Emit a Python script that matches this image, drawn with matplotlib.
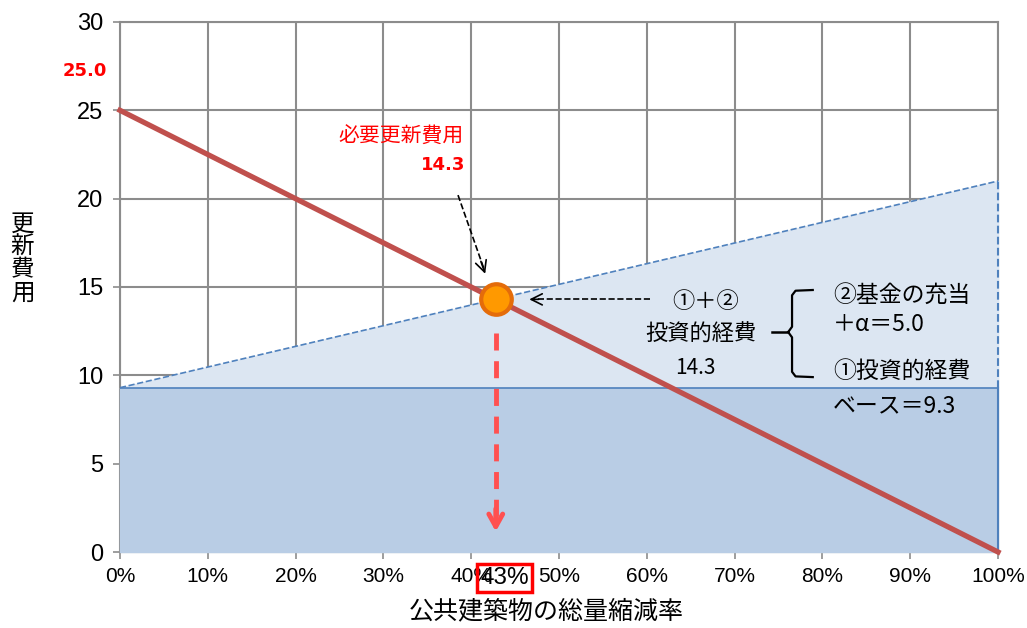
import matplotlib.pyplot as plt
import numpy as np

plt.rcParams['font.family'] = ['Noto Sans CJK JP', 'DejaVu Sans']

# 縮減率 0%〜100% と各費用
rate = [0.0, 1.0]
renewal_cost = [25.0, 0.0]          # 必要更新費用
invest_base = [9.3, 9.3]            # ①投資的経費ベース
invest_total = [9.3, 21.0]          # ①＋② 投資的経費
cross_cost = 14.3
cross_rate_label = '43%'

x_ticks = np.round(np.arange(0, 1.01, 0.1), 2)
x_tick_labels = [f'{int(round(v * 100))}%' for v in x_ticks]
y_ticks = [0, 5, 10, 15, 20, 25, 30]

cross_x = 1 - cross_cost / renewal_cost[0]

fig = plt.figure(figsize=(10.27, 6.28), dpi=100)
ax = fig.add_axes([0.1168, 0.121, 0.855, 0.844])
ax.set_xlim(0, 1)
ax.set_ylim(0, 30)

num_font = ['Liberation Sans', 'DejaVu Sans']
grid_c = '#8c8c8c'
ax.set_xticks(x_ticks)
ax.set_xticklabels(x_tick_labels, family=num_font, fontsize=15)
ax.set_yticks(y_ticks)
ax.set_yticklabels([str(v) for v in y_ticks], family=num_font, fontsize=17)
ax.tick_params(axis='both', direction='out', length=5, color=grid_c, width=1.2)
ax.tick_params(axis='x', pad=6)
ax.tick_params(axis='y', pad=7)
ax.grid(True, color=grid_c, linewidth=1.5, zorder=0)
ax.set_axisbelow(True)
for s in ax.spines.values():
    s.set_color(grid_c)
    s.set_linewidth(1.5)
    s.set_zorder(0.5)

# 投資的経費の領域
ax.fill_between(rate, invest_base, invest_total, color='#dce6f2', zorder=1, clip_on=False)
ax.fill_between(rate, 0, invest_base, color='#b9cde5', zorder=1, clip_on=False)
ax.plot(rate, invest_total, color='#4f81bd', linestyle='--', linewidth=1.2, zorder=2)
ax.plot([1, 1], [invest_base[1], invest_total[1]], color='#4f81bd', linestyle='--', linewidth=1.5, zorder=2, clip_on=False)
ax.plot(rate, invest_base, color='#4f81bd', linewidth=1.2, zorder=2)
ax.plot([1, 1], [0, invest_base[1]], color='#4f81bd', linewidth=1.5, zorder=2, clip_on=False)

# 必要更新費用
ax.plot(rate, renewal_cost, color='#c0504d', linewidth=3.8, zorder=3, clip_on=False)
ax.plot(cross_x, cross_cost, 'o', markersize=22, markerfacecolor='#ff9900',
        markeredgecolor='#e46c0a', markeredgewidth=3, zorder=5)

# 縮減率への矢印
arrow_c = '#ff5050'
ax.plot([cross_x, cross_x], [12.4, 1.6], color=arrow_c, linewidth=3.5,
        dashes=(3.5, 2.2), zorder=4)
ax.annotate('', xy=(cross_x, 1.0), xytext=(cross_x, 2.6),
            arrowprops=dict(arrowstyle='->,head_length=0.9,head_width=0.5',
                            color=arrow_c, linewidth=3.5), zorder=4)

# 注記の矢印
ax.plot([0.385, 0.414], [20.2, 16.1], color='black', linestyle='--', linewidth=1.2, zorder=4)
ax.annotate('', xy=(0.417, 15.6), xytext=(0.410, 16.6),
            arrowprops=dict(arrowstyle='->,head_length=0.8,head_width=0.4',
                            color='black', linewidth=1.2), zorder=4)
ax.plot([0.604, 0.472], [14.3, 14.3], color='black', linestyle='--', linewidth=1.2, zorder=4)
ax.annotate('', xy=(0.463, 14.3), xytext=(0.48, 14.3),
            arrowprops=dict(arrowstyle='->,head_length=0.8,head_width=0.4',
                            color='black', linewidth=1.2), zorder=4)

# 中括弧
bx, tip_x, end_x, left_x = 0.7654, 0.761, 0.789, 0.743
by_top, by_mid, by_bot = 14.83, 12.45, 9.9
ax.plot([end_x, bx + 0.004, bx, bx, tip_x], [by_top, by_top - 0.04, by_top - 0.3, by_mid + 0.3, by_mid],
        color='black', linewidth=1.6, zorder=4, solid_joinstyle='round')
ax.plot([end_x, bx + 0.004, bx, bx, tip_x], [by_bot, by_bot + 0.04, by_bot + 0.3, by_mid - 0.3, by_mid],
        color='black', linewidth=1.6, zorder=4, solid_joinstyle='round')
ax.plot([left_x, tip_x], [by_mid, by_mid], color='black', linewidth=1.8, zorder=4)

# 文字
red = '#ff0000'
ax.text(-0.04, 27.2, f'{renewal_cost[0]:.1f}', color=red, fontsize=13, fontweight='bold',
        ha='center', va='center', family=['DejaVu Sans'])
ax.text(0.32, 23.5, '必要更新費用', color=red, fontsize=15, ha='center', va='center')
ax.text(0.368, 21.9, f'{cross_cost:.1f}', color=red, fontsize=13, fontweight='bold',
        ha='center', va='center', family=['DejaVu Sans'])

ax.text(0.667, 14.2, '①＋②', fontsize=16, ha='center', va='center', zorder=6)
ax.text(0.662, 12.3, '投資的経費', fontsize=16, ha='center', va='center', zorder=6)
ax.text(0.655, 10.4, f'{cross_cost:.1f}', fontsize=15, ha='center', va='center', zorder=6)

ax.text(0.812, 14.5, '②基金の充当', fontsize=16.5, ha='left', va='center', zorder=6)
ax.text(0.812, 12.85, '＋α＝5.0', fontsize=16.5, ha='left', va='center', zorder=6)
ax.text(0.812, 10.2, '①投資的経費', fontsize=16.5, ha='left', va='center', zorder=6)
ax.text(0.812, 8.3, 'ベース＝9.3', fontsize=16.5, ha='left', va='center', zorder=6)

# 縮減率の表示
ax.text(0.438, -1.45, cross_rate_label, fontsize=17.5, ha='center', va='center',
        family=num_font, zorder=6,
        bbox=dict(boxstyle='square,pad=0.12', facecolor='none', edgecolor=red, linewidth=2.5))

fig.text(0.532, 0.026, '公共建築物の総量縮減率', fontsize=18, ha='center', va='center')
fig.text(0.022, 0.588, '\n'.join('更新費用'), fontsize=17,
         ha='center', va='center', linespacing=1.0)

fig.savefig('out.png', dpi=100)
